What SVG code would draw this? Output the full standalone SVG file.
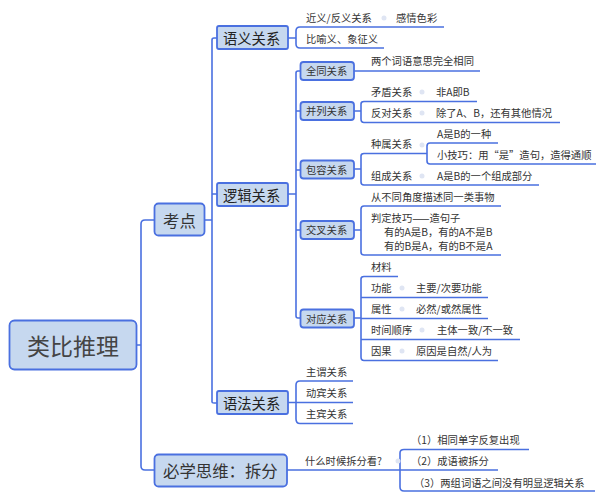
<svg xmlns="http://www.w3.org/2000/svg" width="606" height="500" viewBox="0 0 606 500">
<style>
text{font-family:"Noto Sans CJK SC","Noto Sans",sans-serif;fill:#333;dominant-baseline:central}
.b{fill:#c6d8ef;stroke:#4a70e0;stroke-width:1.8}
.c{fill:none;stroke:#4a70e0;stroke-width:1.6}
.d{fill:#dfe5f3}
.s{font-size:10.3px}
.m{font-size:10.3px}
.l2{font-size:14.3px;fill:#222}
.l1{font-size:16.4px}
</style>
<rect width="606" height="500" fill="#fff"/>
<g id="connectors">
<path class="c" d="M136 345H141M154 220H145Q141 220 141 224V466Q141 470 145 470H154"/>
<path class="c" d="M204 220H212M217 38H214Q212 38 212 40V402Q212 403 214 403H217M212 194H217"/>
<path class="c" d="M288 194H296M300 71H298Q296 71 296 73V316Q296 318 298 318H300M296 111H300M296 170H300M296 230H300"/>
<path class="c" d="M288 38H296M444 27H300Q296 27 296 31V44Q296 48 300 48H384"/>
<path class="c" d="M354 71H480"/>
<path class="c" d="M354 111H361M477 101.500H364Q361 101.500 361 104V119Q361 122.500 364 122.500H560"/>
<path class="c" d="M354 169H361M427 153.500H364Q361 153.500 361 156V182Q361 185 364 185H539M498 143H430Q427 143 427 146V161Q427 164 430 164H596"/>
<path class="c" d="M354 230H361M501 206H364Q361 206 361 209V252Q361 255 364 255H501"/>
<path class="c" d="M354 318H361M398 276.500H364Q361 276.500 361 279V357Q361 360.500 364 360.500H498M361 297.500H488M361 318.500H488M361 339.500H520"/>
<path class="c" d="M288 402.500H353M353 381H300Q296 381 296 385V419Q296 423.500 300 423.500H353"/>
<path class="c" d="M287 470H498M529 449.500H404Q400 449.500 400 453V487Q400 491 404 491H595"/>
</g>
<g id="dots">
<circle class="d" cx="384" cy="18" r="2.500"/><circle class="d" cx="422" cy="92" r="2.500"/><circle class="d" cx="422" cy="113" r="2.500"/><circle class="d" cx="422" cy="145" r="2.500"/><circle class="d" cx="422" cy="176" r="2.500"/><circle class="d" cx="402" cy="288" r="2.500"/><circle class="d" cx="402" cy="309" r="2.500"/><circle class="d" cx="422" cy="330" r="2.500"/><circle class="d" cx="402" cy="351" r="2.500"/><circle class="d" cx="398" cy="461" r="2.500"/>
</g>
<g id="root"><rect class="b" x="9.500" y="320.500" width="127" height="49" rx="5"/><text x="27" y="345" font-size="23" style="fill:#444">类比推理</text></g>
<g id="kaodian"><rect class="b" x="154.500" y="203.500" width="50" height="32" rx="4"/><text class="l1" x="163" y="219.500">考点</text></g>
<g id="bixue"><rect class="b" x="154.500" y="454.500" width="132.500" height="32" rx="4"/><text class="l1" x="163" y="469.500">必学思维：拆分</text></g>
<g id="yuyi"><rect class="b" x="217" y="26" width="71" height="23" rx="2"/><text class="l2" x="223" y="37.500">语义关系</text></g>
<g id="luoji"><rect class="b" x="217" y="183" width="71" height="23" rx="2"/><text class="l2" x="223" y="194.500">逻辑关系</text></g>
<g id="yufa"><rect class="b" x="217" y="391" width="71" height="23" rx="2"/><text class="l2" x="223" y="402.500">语法关系</text></g>
<g id="quantong"><rect class="b" x="300.500" y="62" width="53.500" height="18" rx="3"/><text class="s" x="306" y="70.500">全同关系</text></g>
<g id="binglie"><rect class="b" x="300.500" y="102" width="53.500" height="18" rx="3"/><text class="s" x="306" y="110.500">并列关系</text></g>
<g id="baorong"><rect class="b" x="300.500" y="160.500" width="53.500" height="18" rx="3"/><text class="s" x="306" y="169">包容关系</text></g>
<g id="jiaocha"><rect class="b" x="300.500" y="221" width="53.500" height="18" rx="3"/><text class="s" x="306" y="229.500">交叉关系</text></g>
<g id="duiying"><rect class="b" x="300.500" y="309.500" width="53.500" height="18" rx="3"/><text class="s" x="306" y="318">对应关系</text></g>
<g id="labels" transform="translate(0,-0.700)">
<text class="m" x="306" y="18">近义/反义关系</text><text class="m" x="396" y="18">感情色彩</text>
<text class="m" x="306" y="39">比喻义、象征义</text>
<text class="m" x="371" y="61">两个词语意思完全相同</text>
<text class="m" x="371" y="92">矛盾关系</text><text class="m" x="436" y="92">非A即B</text>
<text class="m" x="371" y="113">反对关系</text><text class="m" x="436" y="113">除了A、B，还有其他情况</text>
<text class="m" x="371" y="144.500">种属关系</text><text class="m" x="437" y="134">A是B的一种</text>
<text class="m" x="437" y="155">小技巧：用“是”造句，造得通顺</text>
<text class="m" x="371" y="176">组成关系</text><text class="m" x="437" y="176">A是B的一个组成部分</text>
<text class="m" x="371" y="197">从不同角度描述同一类事物</text>
<text class="m" x="371" y="218">判定技巧——造句子</text>
<text class="m" x="384" y="232">有的A是B，有的A不是B</text>
<text class="m" x="384" y="246">有的B是A，有的B不是A</text>
<text class="m" x="371" y="267">材料</text>
<text class="m" x="371" y="288">功能</text><text class="m" x="416" y="288">主要/次要功能</text>
<text class="m" x="371" y="309">属性</text><text class="m" x="416" y="309">必然/或然属性</text>
<text class="m" x="371" y="330">时间顺序</text><text class="m" x="437" y="330">主体一致/不一致</text>
<text class="m" x="371" y="351">因果</text><text class="m" x="416" y="351">原因是自然/人为</text>
<text class="m" x="306" y="372">主谓关系</text><text class="m" x="306" y="393">动宾关系</text><text class="m" x="306" y="414">主宾关系</text>
<text class="m" x="305" y="461">什么时候拆分看?</text>
<text class="m" x="411" y="440">（1）相同单字反复出现</text>
<text class="m" x="411" y="461">（2）成语被拆分</text>
<text class="m" x="414" y="483">（3）两组词语之间没有明显逻辑关系</text>
</g>
</svg>
